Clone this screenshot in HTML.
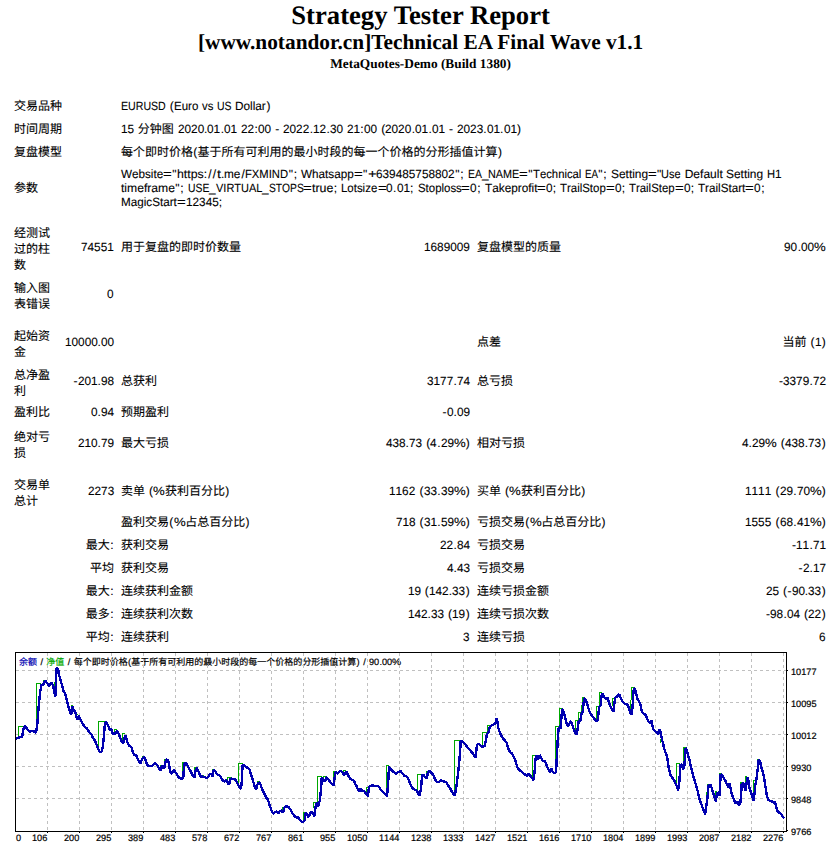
<!DOCTYPE html>
<html lang="zh-CN"><head><meta charset="utf-8"><title>Strategy Tester: [www.notandor.cn]Technical EA Final Wave v1.1</title>
<style>
html,body{margin:0;padding:0;background:#fff}
body{position:relative;width:840px;height:851px;overflow:hidden;font-family:"Liberation Sans",sans-serif;font-size:12px;color:#000;font-kerning:none;text-rendering:geometricPrecision}
.hd{position:absolute;left:1.2px;width:838.8px;text-align:center;font-family:"Liberation Serif",serif;font-weight:bold;white-space:nowrap;font-kerning:normal}
.t{position:absolute;white-space:nowrap;line-height:16px;height:16px;-webkit-text-stroke:0.1px #000}
.j{display:inline-block;white-space:pre;font-family:"Liberation Sans","Noto Sans CJK SC",sans-serif}
.jb{display:block;width:36px;white-space:normal;word-break:break-all;line-height:16px;font-size:12px;font-family:"Liberation Sans","Noto Sans CJK SC",sans-serif}
.k{display:inline-block;white-space:pre}
.s{transform-origin:0 50%}
.p{text-align:center}
.a{position:absolute;white-space:nowrap;font-size:9.33px;line-height:12px;height:12px;-webkit-text-stroke:0.2px #000}
.lg{position:absolute;white-space:nowrap;font-size:9.33px;line-height:12px;height:12px;-webkit-text-stroke:0.2px currentColor}
.lg .j{font-size:9px}
</style></head><body>
<div class="hd" style="top:0;font-size:26.667px;line-height:30px">Strategy Tester Report</div>
<div class="hd" style="top:30px;font-size:21.333px;line-height:24px">[www.notandor.cn]Technical EA Final Wave v1.1</div>
<div class="hd" style="top:56px;font-size:13.333px;line-height:15px">MetaQuotes-Demo (Build 1380)</div>
<div class="t" style="top:98px;left:14px;"><span class="j" style="width:48px">交易品种</span></div>
<div class="t" style="top:98px;left:121px;"><span class="k s" style="width:50.66px;transform:scaleX(0.8832);margin-right:-5.92px">EURUSD</span><span class="k" style="width:3.76px"> </span><span class="k p" style="width:4.60px">(</span><span class="k s" style="width:25.34px;transform:scaleX(0.9574);margin-right:-1.08px">Euro</span><span class="k" style="width:3.76px"> </span><span class="k s" style="width:12.00px;transform:scaleX(0.9440);margin-right:-0.67px">vs</span><span class="k" style="width:3.76px"> </span><span class="k s" style="width:16.67px;transform:scaleX(0.8733);margin-right:-2.11px">US</span><span class="k" style="width:3.76px"> </span><span class="k s" style="width:31.33px;transform:scaleX(0.9820);margin-right:-0.56px">Dollar</span><span class="k p" style="width:4.60px">)</span></div>
<div class="t" style="top:121px;left:14px;"><span class="j" style="width:48px">时间周期</span></div>
<div class="t" style="top:121px;left:121px;"><span class="k s" style="width:13.34px;transform:scaleX(0.9820);margin-right:-0.24px">15</span><span class="k" style="width:3.76px"> </span><span class="j" style="width:36px">分钟图</span><span class="k" style="width:3.76px"> </span><span class="k s" style="width:26.69px;transform:scaleX(0.9820);margin-right:-0.48px">2020</span><span class="k p" style="width:3.64px">.</span><span class="k s" style="width:13.34px;transform:scaleX(0.9820);margin-right:-0.24px">01</span><span class="k p" style="width:3.64px">.</span><span class="k s" style="width:13.34px;transform:scaleX(0.9820);margin-right:-0.24px">01</span><span class="k" style="width:3.76px"> </span><span class="k s" style="width:13.34px;transform:scaleX(0.9820);margin-right:-0.24px">22</span><span class="k p" style="width:4.25px">:</span><span class="k s" style="width:13.34px;transform:scaleX(0.9820);margin-right:-0.24px">00</span><span class="k" style="width:3.76px"> </span><span class="k p" style="width:4.36px">-</span><span class="k" style="width:3.76px"> </span><span class="k s" style="width:26.69px;transform:scaleX(0.9820);margin-right:-0.48px">2022</span><span class="k p" style="width:3.64px">.</span><span class="k s" style="width:13.34px;transform:scaleX(0.9820);margin-right:-0.24px">12</span><span class="k p" style="width:3.64px">.</span><span class="k s" style="width:13.34px;transform:scaleX(0.9820);margin-right:-0.24px">30</span><span class="k" style="width:3.76px"> </span><span class="k s" style="width:13.34px;transform:scaleX(0.9820);margin-right:-0.24px">21</span><span class="k p" style="width:4.25px">:</span><span class="k s" style="width:13.34px;transform:scaleX(0.9820);margin-right:-0.24px">00</span><span class="k" style="width:3.76px"> </span><span class="k p" style="width:4.60px">(</span><span class="k s" style="width:26.69px;transform:scaleX(0.9820);margin-right:-0.48px">2020</span><span class="k p" style="width:3.64px">.</span><span class="k s" style="width:13.34px;transform:scaleX(0.9820);margin-right:-0.24px">01</span><span class="k p" style="width:3.64px">.</span><span class="k s" style="width:13.34px;transform:scaleX(0.9820);margin-right:-0.24px">01</span><span class="k" style="width:3.76px"> </span><span class="k p" style="width:4.36px">-</span><span class="k" style="width:3.76px"> </span><span class="k s" style="width:26.69px;transform:scaleX(0.9820);margin-right:-0.48px">2023</span><span class="k p" style="width:3.64px">.</span><span class="k s" style="width:13.34px;transform:scaleX(0.9820);margin-right:-0.24px">01</span><span class="k p" style="width:3.64px">.</span><span class="k s" style="width:13.34px;transform:scaleX(0.9820);margin-right:-0.24px">01</span><span class="k p" style="width:4.60px">)</span></div>
<div class="t" style="top:144px;left:14px;"><span class="j" style="width:48px">复盘模型</span></div>
<div class="t" style="top:144px;left:121px;"><span class="j" style="width:72px">每个即时价格</span><span class="k p" style="width:4.60px">(</span><span class="j" style="width:300px">基于所有可利用的最小时段的每一个价格的分形插值计算</span><span class="k p" style="width:4.60px">)</span></div>
<div class="t" style="top:180px;left:14px;"><span class="j" style="width:24px">参数</span></div>
<div class="t" style="top:166px;left:121px;"><span class="k s" style="width:43.34px;transform:scaleX(0.9734);margin-right:-1.15px">Website</span><span class="k s" style="width:7.01px;transform:scaleX(1.2466);margin-right:1.73px">=</span><span class="k p" style="width:4.81px">"</span><span class="k s" style="width:26.02px;transform:scaleX(1.0263);margin-right:0.68px">https</span><span class="k p" style="width:4.25px">:</span><span class="k p" style="width:4.58px">/</span><span class="k p" style="width:4.58px">/</span><span class="k s" style="width:3.34px;transform:scaleX(1.2014);margin-right:0.67px">t</span><span class="k p" style="width:3.64px">.</span><span class="k s" style="width:16.67px;transform:scaleX(0.9834);margin-right:-0.28px">me</span><span class="k p" style="width:4.58px">/</span><span class="k s" style="width:46.00px;transform:scaleX(0.9369);margin-right:-2.90px">FXMIND</span><span class="k p" style="width:4.81px">"</span><span class="k p" style="width:4.25px">;</span><span class="k" style="width:3.76px"> </span><span class="k s" style="width:54.02px;transform:scaleX(0.9765);margin-right:-1.27px">Whatsapp</span><span class="k s" style="width:7.01px;transform:scaleX(1.2466);margin-right:1.73px">=</span><span class="k p" style="width:4.81px">"</span><span class="k s" style="width:7.01px;transform:scaleX(1.2466);margin-right:1.73px">+</span><span class="k s" style="width:80.06px;transform:scaleX(0.9820);margin-right:-1.44px">639485758802</span><span class="k p" style="width:4.81px">"</span><span class="k p" style="width:4.25px">;</span><span class="k" style="width:3.76px"> </span><span class="k s" style="width:16.01px;transform:scaleX(0.8703);margin-right:-2.08px">EA</span><span class="k s" style="width:6.67px;transform:scaleX(0.9820);margin-right:-0.12px">_</span><span class="k s" style="width:34.67px;transform:scaleX(0.8996);margin-right:-3.48px">NAME</span><span class="k s" style="width:7.01px;transform:scaleX(1.2466);margin-right:1.73px">=</span><span class="k p" style="width:4.81px">"</span><span class="k s" style="width:51.35px;transform:scaleX(0.9420);margin-right:-2.98px">Technical</span><span class="k" style="width:3.76px"> </span><span class="k s" style="width:16.01px;transform:scaleX(0.8141);margin-right:-2.98px">EA</span><span class="k p" style="width:4.81px">"</span><span class="k p" style="width:4.25px">;</span><span class="k" style="width:3.76px"> </span><span class="k s" style="width:37.36px;transform:scaleX(0.9929);margin-right:-0.26px">Setting</span><span class="k s" style="width:7.01px;transform:scaleX(1.2466);margin-right:1.73px">=</span><span class="k p" style="width:4.81px">"</span><span class="k s" style="width:21.34px;transform:scaleX(0.9156);margin-right:-1.80px">Use</span><span class="k" style="width:3.76px"> </span><span class="k s" style="width:38.02px;transform:scaleX(1.0000);margin-right:0.00px">Default</span><span class="k" style="width:3.76px"> </span><span class="k s" style="width:37.36px;transform:scaleX(0.9929);margin-right:-0.26px">Setting</span><span class="k" style="width:3.76px"> </span><span class="k s" style="width:8.66px;transform:scaleX(0.9349);margin-right:-0.56px">H</span><span class="k s" style="width:6.67px;transform:scaleX(0.9820);margin-right:-0.12px">1</span></div>
<div class="t" style="top:180px;left:121px;"><span class="k s" style="width:53.34px;transform:scaleX(1.0119);margin-right:0.64px">timeframe</span><span class="k p" style="width:4.81px">"</span><span class="k p" style="width:4.25px">;</span><span class="k" style="width:3.76px"> </span><span class="k s" style="width:24.67px;transform:scaleX(0.8628);margin-right:-3.38px">USE</span><span class="k s" style="width:6.67px;transform:scaleX(0.9820);margin-right:-0.12px">_</span><span class="k s" style="width:50.68px;transform:scaleX(0.9162);margin-right:-4.25px">VIRTUAL</span><span class="k s" style="width:6.67px;transform:scaleX(0.9820);margin-right:-0.12px">_</span><span class="k s" style="width:40.68px;transform:scaleX(0.8546);margin-right:-5.92px">STOPS</span><span class="k s" style="width:7.01px;transform:scaleX(1.2466);margin-right:1.73px">=</span><span class="k s" style="width:20.68px;transform:scaleX(1.0319);margin-right:0.66px">true</span><span class="k p" style="width:4.25px">;</span><span class="k" style="width:3.76px"> </span><span class="k s" style="width:38.02px;transform:scaleX(0.9533);margin-right:-1.78px">Lotsize</span><span class="k s" style="width:7.01px;transform:scaleX(1.2466);margin-right:1.73px">=</span><span class="k s" style="width:6.67px;transform:scaleX(0.9820);margin-right:-0.12px">0</span><span class="k p" style="width:3.64px">.</span><span class="k s" style="width:13.34px;transform:scaleX(0.9820);margin-right:-0.24px">01</span><span class="k p" style="width:4.25px">;</span><span class="k" style="width:3.76px"> </span><span class="k s" style="width:46.02px;transform:scaleX(0.9520);margin-right:-2.21px">Stoploss</span><span class="k s" style="width:7.01px;transform:scaleX(1.2466);margin-right:1.73px">=</span><span class="k s" style="width:6.67px;transform:scaleX(0.9820);margin-right:-0.12px">0</span><span class="k p" style="width:4.25px">;</span><span class="k" style="width:3.76px"> </span><span class="k s" style="width:53.35px;transform:scaleX(0.9829);margin-right:-0.91px">Takeprofit</span><span class="k s" style="width:7.01px;transform:scaleX(1.2466);margin-right:1.73px">=</span><span class="k s" style="width:6.67px;transform:scaleX(0.9820);margin-right:-0.12px">0</span><span class="k p" style="width:4.25px">;</span><span class="k" style="width:3.76px"> </span><span class="k s" style="width:48.01px;transform:scaleX(0.9533);margin-right:-2.24px">TrailStop</span><span class="k s" style="width:7.01px;transform:scaleX(1.2466);margin-right:1.73px">=</span><span class="k s" style="width:6.67px;transform:scaleX(0.9820);margin-right:-0.12px">0</span><span class="k p" style="width:4.25px">;</span><span class="k" style="width:3.76px"> </span><span class="k s" style="width:48.01px;transform:scaleX(0.9490);margin-right:-2.45px">TrailStep</span><span class="k s" style="width:7.01px;transform:scaleX(1.2466);margin-right:1.73px">=</span><span class="k s" style="width:6.67px;transform:scaleX(0.9820);margin-right:-0.12px">0</span><span class="k p" style="width:4.25px">;</span><span class="k" style="width:3.76px"> </span><span class="k s" style="width:48.67px;transform:scaleX(0.9707);margin-right:-1.43px">TrailStart</span><span class="k s" style="width:7.01px;transform:scaleX(1.2466);margin-right:1.73px">=</span><span class="k s" style="width:6.67px;transform:scaleX(0.9820);margin-right:-0.12px">0</span><span class="k p" style="width:4.25px">;</span></div>
<div class="t" style="top:194px;left:121px;"><span class="k s" style="width:57.35px;transform:scaleX(0.9728);margin-right:-1.56px">MagicStart</span><span class="k s" style="width:7.01px;transform:scaleX(1.2466);margin-right:1.73px">=</span><span class="k s" style="width:33.36px;transform:scaleX(0.9820);margin-right:-0.60px">12345</span><span class="k p" style="width:4.25px">;</span></div>
<div class="t" style="left:14px;top:225px;height:44px;line-height:0"><span class="jb">经测试过的柱数</span></div>
<div class="t" style="top:239px;right:726px;"><span class="k s" style="width:33.36px;transform:scaleX(0.9820);margin-right:-0.60px">74551</span></div>
<div class="t" style="top:239px;left:121px;"><span class="j" style="width:120px">用于复盘的即时价数量</span></div>
<div class="t" style="top:239px;right:370px;"><span class="k s" style="width:46.70px;transform:scaleX(0.9820);margin-right:-0.84px">1689009</span></div>
<div class="t" style="top:239px;left:477px;"><span class="j" style="width:84px">复盘模型的质量</span></div>
<div class="t" style="top:239px;right:14px;"><span class="k s" style="width:13.34px;transform:scaleX(0.9820);margin-right:-0.24px">90</span><span class="k p" style="width:3.64px">.</span><span class="k s" style="width:13.34px;transform:scaleX(0.9820);margin-right:-0.24px">00</span><span class="k s" style="width:10.67px;transform:scaleX(1.0990);margin-right:1.06px">%</span></div>
<div class="t" style="left:14px;top:280px;height:28px;line-height:0"><span class="jb">输入图表错误</span></div>
<div class="t" style="top:286px;right:726px;"><span class="k s" style="width:6.67px;transform:scaleX(0.9820);margin-right:-0.12px">0</span></div>
<div class="t" style="left:14px;top:328px;height:28px;line-height:0"><span class="jb">起始资金</span></div>
<div class="t" style="top:334px;right:726px;"><span class="k s" style="width:33.36px;transform:scaleX(0.9820);margin-right:-0.60px">10000</span><span class="k p" style="width:3.64px">.</span><span class="k s" style="width:13.34px;transform:scaleX(0.9820);margin-right:-0.24px">00</span></div>
<div class="t" style="top:334px;left:477px;"><span class="j" style="width:24px">点差</span></div>
<div class="t" style="top:334px;right:14px;"><span class="j" style="width:24px">当前</span><span class="k" style="width:3.76px"> </span><span class="k p" style="width:4.60px">(</span><span class="k s" style="width:6.67px;transform:scaleX(0.9820);margin-right:-0.12px">1</span><span class="k p" style="width:4.60px">)</span></div>
<div class="t" style="left:14px;top:367px;height:28px;line-height:0"><span class="jb">总净盈利</span></div>
<div class="t" style="top:373px;right:726px;"><span class="k p" style="width:4.36px">-</span><span class="k s" style="width:20.02px;transform:scaleX(0.9820);margin-right:-0.36px">201</span><span class="k p" style="width:3.64px">.</span><span class="k s" style="width:13.34px;transform:scaleX(0.9820);margin-right:-0.24px">98</span></div>
<div class="t" style="top:373px;left:121px;"><span class="j" style="width:36px">总获利</span></div>
<div class="t" style="top:373px;right:370px;"><span class="k s" style="width:26.69px;transform:scaleX(0.9820);margin-right:-0.48px">3177</span><span class="k p" style="width:3.64px">.</span><span class="k s" style="width:13.34px;transform:scaleX(0.9820);margin-right:-0.24px">74</span></div>
<div class="t" style="top:373px;left:477px;"><span class="j" style="width:36px">总亏损</span></div>
<div class="t" style="top:373px;right:14px;"><span class="k p" style="width:4.36px">-</span><span class="k s" style="width:26.69px;transform:scaleX(0.9820);margin-right:-0.48px">3379</span><span class="k p" style="width:3.64px">.</span><span class="k s" style="width:13.34px;transform:scaleX(0.9820);margin-right:-0.24px">72</span></div>
<div class="t" style="top:404px;left:14px;"><span class="j" style="width:36px">盈利比</span></div>
<div class="t" style="top:404px;right:726px;"><span class="k s" style="width:6.67px;transform:scaleX(0.9820);margin-right:-0.12px">0</span><span class="k p" style="width:3.64px">.</span><span class="k s" style="width:13.34px;transform:scaleX(0.9820);margin-right:-0.24px">94</span></div>
<div class="t" style="top:404px;left:121px;"><span class="j" style="width:48px">预期盈利</span></div>
<div class="t" style="top:404px;right:370px;"><span class="k p" style="width:4.36px">-</span><span class="k s" style="width:6.67px;transform:scaleX(0.9820);margin-right:-0.12px">0</span><span class="k p" style="width:3.64px">.</span><span class="k s" style="width:13.34px;transform:scaleX(0.9820);margin-right:-0.24px">09</span></div>
<div class="t" style="left:14px;top:429px;height:28px;line-height:0"><span class="jb">绝对亏损</span></div>
<div class="t" style="top:435px;right:726px;"><span class="k s" style="width:20.02px;transform:scaleX(0.9820);margin-right:-0.36px">210</span><span class="k p" style="width:3.64px">.</span><span class="k s" style="width:13.34px;transform:scaleX(0.9820);margin-right:-0.24px">79</span></div>
<div class="t" style="top:435px;left:121px;"><span class="j" style="width:48px">最大亏损</span></div>
<div class="t" style="top:435px;right:370px;"><span class="k s" style="width:20.02px;transform:scaleX(0.9820);margin-right:-0.36px">438</span><span class="k p" style="width:3.64px">.</span><span class="k s" style="width:13.34px;transform:scaleX(0.9820);margin-right:-0.24px">73</span><span class="k" style="width:3.76px"> </span><span class="k p" style="width:4.60px">(</span><span class="k s" style="width:6.67px;transform:scaleX(0.9820);margin-right:-0.12px">4</span><span class="k p" style="width:3.64px">.</span><span class="k s" style="width:13.34px;transform:scaleX(0.9820);margin-right:-0.24px">29</span><span class="k s" style="width:10.67px;transform:scaleX(1.0990);margin-right:1.06px">%</span><span class="k p" style="width:4.60px">)</span></div>
<div class="t" style="top:435px;left:477px;"><span class="j" style="width:48px">相对亏损</span></div>
<div class="t" style="top:435px;right:14px;"><span class="k s" style="width:6.67px;transform:scaleX(0.9820);margin-right:-0.12px">4</span><span class="k p" style="width:3.64px">.</span><span class="k s" style="width:13.34px;transform:scaleX(0.9820);margin-right:-0.24px">29</span><span class="k s" style="width:10.67px;transform:scaleX(1.0990);margin-right:1.06px">%</span><span class="k" style="width:3.76px"> </span><span class="k p" style="width:4.60px">(</span><span class="k s" style="width:20.02px;transform:scaleX(0.9820);margin-right:-0.36px">438</span><span class="k p" style="width:3.64px">.</span><span class="k s" style="width:13.34px;transform:scaleX(0.9820);margin-right:-0.24px">73</span><span class="k p" style="width:4.60px">)</span></div>
<div class="t" style="left:14px;top:477px;height:28px;line-height:0"><span class="jb">交易单总计</span></div>
<div class="t" style="top:483px;right:726px;"><span class="k s" style="width:26.69px;transform:scaleX(0.9820);margin-right:-0.48px">2273</span></div>
<div class="t" style="top:483px;left:121px;"><span class="j" style="width:24px">卖单</span><span class="k" style="width:3.76px"> </span><span class="k p" style="width:4.60px">(</span><span class="k s" style="width:10.67px;transform:scaleX(1.0990);margin-right:1.06px">%</span><span class="j" style="width:60px">获利百分比</span><span class="k p" style="width:4.60px">)</span></div>
<div class="t" style="top:483px;right:370px;"><span class="k s" style="width:26.69px;transform:scaleX(0.9820);margin-right:-0.48px">1162</span><span class="k" style="width:3.76px"> </span><span class="k p" style="width:4.60px">(</span><span class="k s" style="width:13.34px;transform:scaleX(0.9820);margin-right:-0.24px">33</span><span class="k p" style="width:3.64px">.</span><span class="k s" style="width:13.34px;transform:scaleX(0.9820);margin-right:-0.24px">39</span><span class="k s" style="width:10.67px;transform:scaleX(1.0990);margin-right:1.06px">%</span><span class="k p" style="width:4.60px">)</span></div>
<div class="t" style="top:483px;left:477px;"><span class="j" style="width:24px">买单</span><span class="k" style="width:3.76px"> </span><span class="k p" style="width:4.60px">(</span><span class="k s" style="width:10.67px;transform:scaleX(1.0990);margin-right:1.06px">%</span><span class="j" style="width:60px">获利百分比</span><span class="k p" style="width:4.60px">)</span></div>
<div class="t" style="top:483px;right:14px;"><span class="k s" style="width:26.69px;transform:scaleX(0.9820);margin-right:-0.48px">1111</span><span class="k" style="width:3.76px"> </span><span class="k p" style="width:4.60px">(</span><span class="k s" style="width:13.34px;transform:scaleX(0.9820);margin-right:-0.24px">29</span><span class="k p" style="width:3.64px">.</span><span class="k s" style="width:13.34px;transform:scaleX(0.9820);margin-right:-0.24px">70</span><span class="k s" style="width:10.67px;transform:scaleX(1.0990);margin-right:1.06px">%</span><span class="k p" style="width:4.60px">)</span></div>
<div class="t" style="top:514px;left:121px;"><span class="j" style="width:48px">盈利交易</span><span class="k p" style="width:4.60px">(</span><span class="k s" style="width:10.67px;transform:scaleX(1.0990);margin-right:1.06px">%</span><span class="j" style="width:60px">占总百分比</span><span class="k p" style="width:4.60px">)</span></div>
<div class="t" style="top:514px;right:370px;"><span class="k s" style="width:20.02px;transform:scaleX(0.9820);margin-right:-0.36px">718</span><span class="k" style="width:3.76px"> </span><span class="k p" style="width:4.60px">(</span><span class="k s" style="width:13.34px;transform:scaleX(0.9820);margin-right:-0.24px">31</span><span class="k p" style="width:3.64px">.</span><span class="k s" style="width:13.34px;transform:scaleX(0.9820);margin-right:-0.24px">59</span><span class="k s" style="width:10.67px;transform:scaleX(1.0990);margin-right:1.06px">%</span><span class="k p" style="width:4.60px">)</span></div>
<div class="t" style="top:514px;left:477px;"><span class="j" style="width:48px">亏损交易</span><span class="k p" style="width:4.60px">(</span><span class="k s" style="width:10.67px;transform:scaleX(1.0990);margin-right:1.06px">%</span><span class="j" style="width:60px">占总百分比</span><span class="k p" style="width:4.60px">)</span></div>
<div class="t" style="top:514px;right:14px;"><span class="k s" style="width:26.69px;transform:scaleX(0.9820);margin-right:-0.48px">1555</span><span class="k" style="width:3.76px"> </span><span class="k p" style="width:4.60px">(</span><span class="k s" style="width:13.34px;transform:scaleX(0.9820);margin-right:-0.24px">68</span><span class="k p" style="width:3.64px">.</span><span class="k s" style="width:13.34px;transform:scaleX(0.9820);margin-right:-0.24px">41</span><span class="k s" style="width:10.67px;transform:scaleX(1.0990);margin-right:1.06px">%</span><span class="k p" style="width:4.60px">)</span></div>
<div class="t" style="top:537px;right:726px;"><span class="j" style="width:24px">最大</span><span class="k p" style="width:4.25px">:</span></div>
<div class="t" style="top:537px;left:121px;"><span class="j" style="width:48px">获利交易</span></div>
<div class="t" style="top:537px;right:370px;"><span class="k s" style="width:13.34px;transform:scaleX(0.9820);margin-right:-0.24px">22</span><span class="k p" style="width:3.64px">.</span><span class="k s" style="width:13.34px;transform:scaleX(0.9820);margin-right:-0.24px">84</span></div>
<div class="t" style="top:537px;left:477px;"><span class="j" style="width:48px">亏损交易</span></div>
<div class="t" style="top:537px;right:14px;"><span class="k p" style="width:4.36px">-</span><span class="k s" style="width:13.34px;transform:scaleX(0.9820);margin-right:-0.24px">11</span><span class="k p" style="width:3.64px">.</span><span class="k s" style="width:13.34px;transform:scaleX(0.9820);margin-right:-0.24px">71</span></div>
<div class="t" style="top:560px;right:726px;"><span class="j" style="width:24px">平均</span></div>
<div class="t" style="top:560px;left:121px;"><span class="j" style="width:48px">获利交易</span></div>
<div class="t" style="top:560px;right:370px;"><span class="k s" style="width:6.67px;transform:scaleX(0.9820);margin-right:-0.12px">4</span><span class="k p" style="width:3.64px">.</span><span class="k s" style="width:13.34px;transform:scaleX(0.9820);margin-right:-0.24px">43</span></div>
<div class="t" style="top:560px;left:477px;"><span class="j" style="width:48px">亏损交易</span></div>
<div class="t" style="top:560px;right:14px;"><span class="k p" style="width:4.36px">-</span><span class="k s" style="width:6.67px;transform:scaleX(0.9820);margin-right:-0.12px">2</span><span class="k p" style="width:3.64px">.</span><span class="k s" style="width:13.34px;transform:scaleX(0.9820);margin-right:-0.24px">17</span></div>
<div class="t" style="top:583px;right:726px;"><span class="j" style="width:24px">最大</span><span class="k p" style="width:4.25px">:</span></div>
<div class="t" style="top:583px;left:121px;"><span class="j" style="width:72px">连续获利金额</span></div>
<div class="t" style="top:583px;right:370px;"><span class="k s" style="width:13.34px;transform:scaleX(0.9820);margin-right:-0.24px">19</span><span class="k" style="width:3.76px"> </span><span class="k p" style="width:4.60px">(</span><span class="k s" style="width:20.02px;transform:scaleX(0.9820);margin-right:-0.36px">142</span><span class="k p" style="width:3.64px">.</span><span class="k s" style="width:13.34px;transform:scaleX(0.9820);margin-right:-0.24px">33</span><span class="k p" style="width:4.60px">)</span></div>
<div class="t" style="top:583px;left:477px;"><span class="j" style="width:72px">连续亏损金额</span></div>
<div class="t" style="top:583px;right:14px;"><span class="k s" style="width:13.34px;transform:scaleX(0.9820);margin-right:-0.24px">25</span><span class="k" style="width:3.76px"> </span><span class="k p" style="width:4.60px">(</span><span class="k p" style="width:4.36px">-</span><span class="k s" style="width:13.34px;transform:scaleX(0.9820);margin-right:-0.24px">90</span><span class="k p" style="width:3.64px">.</span><span class="k s" style="width:13.34px;transform:scaleX(0.9820);margin-right:-0.24px">33</span><span class="k p" style="width:4.60px">)</span></div>
<div class="t" style="top:606px;right:726px;"><span class="j" style="width:24px">最多</span><span class="k p" style="width:4.25px">:</span></div>
<div class="t" style="top:606px;left:121px;"><span class="j" style="width:72px">连续获利次数</span></div>
<div class="t" style="top:606px;right:370px;"><span class="k s" style="width:20.02px;transform:scaleX(0.9820);margin-right:-0.36px">142</span><span class="k p" style="width:3.64px">.</span><span class="k s" style="width:13.34px;transform:scaleX(0.9820);margin-right:-0.24px">33</span><span class="k" style="width:3.76px"> </span><span class="k p" style="width:4.60px">(</span><span class="k s" style="width:13.34px;transform:scaleX(0.9820);margin-right:-0.24px">19</span><span class="k p" style="width:4.60px">)</span></div>
<div class="t" style="top:606px;left:477px;"><span class="j" style="width:72px">连续亏损次数</span></div>
<div class="t" style="top:606px;right:14px;"><span class="k p" style="width:4.36px">-</span><span class="k s" style="width:13.34px;transform:scaleX(0.9820);margin-right:-0.24px">98</span><span class="k p" style="width:3.64px">.</span><span class="k s" style="width:13.34px;transform:scaleX(0.9820);margin-right:-0.24px">04</span><span class="k" style="width:3.76px"> </span><span class="k p" style="width:4.60px">(</span><span class="k s" style="width:13.34px;transform:scaleX(0.9820);margin-right:-0.24px">22</span><span class="k p" style="width:4.60px">)</span></div>
<div class="t" style="top:629px;right:726px;"><span class="j" style="width:24px">平均</span><span class="k p" style="width:4.25px">:</span></div>
<div class="t" style="top:629px;left:121px;"><span class="j" style="width:48px">连续获利</span></div>
<div class="t" style="top:629px;right:370px;"><span class="k s" style="width:6.67px;transform:scaleX(0.9820);margin-right:-0.12px">3</span></div>
<div class="t" style="top:629px;left:477px;"><span class="j" style="width:48px">连续亏损</span></div>
<div class="t" style="top:629px;right:14px;"><span class="k s" style="width:6.67px;transform:scaleX(0.9820);margin-right:-0.12px">6</span></div>
<div class="a" style="left:16px;top:832px"><span class="k s" style="width:5.19px;transform:scaleX(0.9820);margin-right:-0.09px">0</span></div>
<div class="a" style="right:793px;top:832px"><span class="k s" style="width:15.56px;transform:scaleX(0.9820);margin-right:-0.28px">106</span></div>
<div class="a" style="right:761px;top:832px"><span class="k s" style="width:15.56px;transform:scaleX(0.9820);margin-right:-0.28px">200</span></div>
<div class="a" style="right:729px;top:832px"><span class="k s" style="width:15.56px;transform:scaleX(0.9820);margin-right:-0.28px">295</span></div>
<div class="a" style="right:697px;top:832px"><span class="k s" style="width:15.56px;transform:scaleX(0.9820);margin-right:-0.28px">389</span></div>
<div class="a" style="right:665px;top:832px"><span class="k s" style="width:15.56px;transform:scaleX(0.9820);margin-right:-0.28px">483</span></div>
<div class="a" style="right:633px;top:832px"><span class="k s" style="width:15.56px;transform:scaleX(0.9820);margin-right:-0.28px">578</span></div>
<div class="a" style="right:601px;top:832px"><span class="k s" style="width:15.56px;transform:scaleX(0.9820);margin-right:-0.28px">672</span></div>
<div class="a" style="right:569px;top:832px"><span class="k s" style="width:15.56px;transform:scaleX(0.9820);margin-right:-0.28px">767</span></div>
<div class="a" style="right:537px;top:832px"><span class="k s" style="width:15.56px;transform:scaleX(0.9820);margin-right:-0.28px">861</span></div>
<div class="a" style="right:505px;top:832px"><span class="k s" style="width:15.56px;transform:scaleX(0.9820);margin-right:-0.28px">955</span></div>
<div class="a" style="right:473px;top:832px"><span class="k s" style="width:20.75px;transform:scaleX(0.9820);margin-right:-0.37px">1050</span></div>
<div class="a" style="right:441px;top:832px"><span class="k s" style="width:20.75px;transform:scaleX(0.9820);margin-right:-0.37px">1144</span></div>
<div class="a" style="right:409px;top:832px"><span class="k s" style="width:20.75px;transform:scaleX(0.9820);margin-right:-0.37px">1238</span></div>
<div class="a" style="right:377px;top:832px"><span class="k s" style="width:20.75px;transform:scaleX(0.9820);margin-right:-0.37px">1333</span></div>
<div class="a" style="right:345px;top:832px"><span class="k s" style="width:20.75px;transform:scaleX(0.9820);margin-right:-0.37px">1427</span></div>
<div class="a" style="right:313px;top:832px"><span class="k s" style="width:20.75px;transform:scaleX(0.9820);margin-right:-0.37px">1521</span></div>
<div class="a" style="right:281px;top:832px"><span class="k s" style="width:20.75px;transform:scaleX(0.9820);margin-right:-0.37px">1616</span></div>
<div class="a" style="right:249px;top:832px"><span class="k s" style="width:20.75px;transform:scaleX(0.9820);margin-right:-0.37px">1710</span></div>
<div class="a" style="right:217px;top:832px"><span class="k s" style="width:20.75px;transform:scaleX(0.9820);margin-right:-0.37px">1804</span></div>
<div class="a" style="right:185px;top:832px"><span class="k s" style="width:20.75px;transform:scaleX(0.9820);margin-right:-0.37px">1899</span></div>
<div class="a" style="right:153px;top:832px"><span class="k s" style="width:20.75px;transform:scaleX(0.9820);margin-right:-0.37px">1993</span></div>
<div class="a" style="right:121px;top:832px"><span class="k s" style="width:20.75px;transform:scaleX(0.9820);margin-right:-0.37px">2087</span></div>
<div class="a" style="right:89px;top:832px"><span class="k s" style="width:20.75px;transform:scaleX(0.9820);margin-right:-0.37px">2182</span></div>
<div class="a" style="right:57px;top:832px"><span class="k s" style="width:20.75px;transform:scaleX(0.9820);margin-right:-0.37px">2276</span></div>
<div class="a" style="left:791px;top:666px"><span class="k s" style="width:25.94px;transform:scaleX(0.9820);margin-right:-0.47px">10177</span></div>
<div class="a" style="left:791px;top:698px"><span class="k s" style="width:25.94px;transform:scaleX(0.9820);margin-right:-0.47px">10095</span></div>
<div class="a" style="left:791px;top:730px"><span class="k s" style="width:25.94px;transform:scaleX(0.9820);margin-right:-0.47px">10012</span></div>
<div class="a" style="left:791px;top:762px"><span class="k s" style="width:20.75px;transform:scaleX(0.9820);margin-right:-0.37px">9930</span></div>
<div class="a" style="left:791px;top:794px"><span class="k s" style="width:20.75px;transform:scaleX(0.9820);margin-right:-0.37px">9848</span></div>
<div class="a" style="left:791px;top:826px"><span class="k s" style="width:20.75px;transform:scaleX(0.9820);margin-right:-0.37px">9766</span></div>
<div class="lg" style="left:19px;top:656px"><span style="color:#0000b0"><span class="j" style="width:18px">余额</span></span><span class="k" style="width:2.92px"> </span><span class="k p" style="width:3.56px">/</span><span class="k" style="width:2.92px"> </span><span style="color:#00a800"><span class="j" style="width:18px">净值</span></span><span class="k" style="width:2.92px"> </span><span class="k p" style="width:3.56px">/</span><span class="k" style="width:2.92px"> </span><span class="j" style="width:54px">每个即时价格</span><span class="k p" style="width:3.57px">(</span><span class="j" style="width:225px">基于所有可利用的最小时段的每一个价格的分形插值计算</span><span class="k p" style="width:3.57px">)</span><span class="k" style="width:2.92px"> </span><span class="k p" style="width:3.56px">/</span><span class="k" style="width:2.92px"> </span><span class="k s" style="width:10.37px;transform:scaleX(0.9820);margin-right:-0.19px">90</span><span class="k p" style="width:2.83px">.</span><span class="k s" style="width:10.37px;transform:scaleX(0.9820);margin-right:-0.19px">00</span><span class="k s" style="width:8.29px;transform:scaleX(1.0990);margin-right:0.82px">%</span></div>
<svg id="chart" style="position:absolute;left:0;top:640px" width="840" height="211" viewBox="0 640 840 211">
<path d="M47.5 653 V831 M79.5 653 V831 M111.5 653 V831 M143.5 653 V831 M175.5 653 V831 M207.5 653 V831 M239.5 653 V831 M271.5 653 V831 M303.5 653 V831 M335.5 653 V831 M367.5 653 V831 M399.5 653 V831 M431.5 653 V831 M463.5 653 V831 M495.5 653 V831 M527.5 653 V831 M559.5 653 V831 M591.5 653 V831 M623.5 653 V831 M655.5 653 V831 M687.5 653 V831 M719.5 653 V831 M751.5 653 V831 M783.5 653 V831 M16 670.5 H786 M16 702.5 H786 M16 734.5 H786 M16 766.5 H786 M16 798.5 H786" stroke="#c0c0c0" stroke-width="1" stroke-dasharray="3 3" fill="none" shape-rendering="crispEdges"/>
<path d="M18.9 737.4 V726.4 H24.3 M36 724.3 V683.3 H40.7 M43.2 684.3 V680 H45 M54.2 689.3 V682.9 H55.1 M55.3 678.6 V670.7 H57.1 M71.3 712.9 V705.7 H72.6 M76.7 717.1 V714.3 H78.3 M98.2 745.7 V721.1 H105 M114.6 733.6 V729.6 H116.9 M122.5 741.4 V733.3 H125 M138.9 762.1 V761.1 H139.9 M142 759.3 V756.9 H143.6 M160.3 767.1 V765 H161.9 M164.3 762.9 V759.3 H166.7 M182.9 777.1 V762.4 H185.7 M194.3 777.1 V767.4 H196.4 M201.7 776.7 V775.4 H204.3 M212 774.3 V769.6 H214.3 M227.7 783.6 V777.9 H231 M238.9 785.7 V763.3 H242.4 M239.6 763.9 V763.9 H242.6 M257.5 785 V781.4 H258.9 M282.5 812.9 V807.9 H284.3 M303.2 821.4 V812.9 H305.7 M313.9 807.9 V802.1 H316 M317.9 806.4 V776.4 H322.1 M323.9 780 V776.7 H326.4 M333.2 783.6 V771.1 H336 M343.9 773.6 V770.4 H346.4 M366 792.9 V787.1 H368.9 M386 794.3 V765.4 H389.3 M417.9 791.4 V774.3 H422.1 M426 777.9 V771.4 H428.1 M454.2 793.6 V740.4 H461.4 M482.9 745.7 V732.6 H486.9 M487 732.1 V725.4 H490 M495.3 723.6 V718.3 H496.6 M532 777.1 V755.3 H536 M555 772.9 V726.4 H558.6 M559.3 727.9 V708.6 H562.1 M575 732.9 V720.4 H577.9 M578.2 721.4 V712.6 H581.4 M581.3 713.6 V705.7 H582.9 M582.5 705.7 V697.4 H584.3 M596 718.6 V706.4 H599.3 M599.2 706.4 V692.6 H602.1 M612.9 705.7 V698.6 H615.3 M630 708.6 V700 H631.4 M631 700 V687.1 H634.3 M660.7 738.6 V742.9 H661.1 M676.7 784.3 V763.3 H680.4 M683.2 765.7 V747.1 H685.7 M706 807.9 V792.9 H707.4 M707 792.9 V784.3 H708.9 M715 797.1 V791.4 H716.9 M719.2 788.6 V773.3 H721.4 M740 797.1 V782.6 H742.1 M745 785 V776.4 H747.4 M753.2 797.1 V780.3 H755.7 M756.3 777.1 V770 H757.6 M757.2 770 V759.3 H758.9" stroke="#00a800" stroke-width="1" fill="none" shape-rendering="crispEdges"/>
<polyline points="16,738.6 18.6,737.4 22.1,737.1 23.6,727.9 25,726.4 25.4,726.1 27.9,730 29.3,731.7 31.4,731.1 32.9,730.7 35,732.1 36.1,732.6 37.4,722.9 38.6,707.1 40,692.9 41.4,685 43.6,684.3 45,680.3 47.4,683.6 49.3,686 51.4,682.1 52.4,684.3 53.9,689.3 55.3,696.4 56,678.6 56.7,668.3 57.9,668.3 59.3,675.7 60.7,680.7 62.1,685.7 63.6,691.4 65,692.9 65.7,695.7 67.1,701.4 68.6,707.1 70,712.1 71.4,714.3 72.6,706.4 73.6,710 75,711.4 76.4,716.4 77.4,719.3 78.9,715.7 80,718.6 81.4,721.4 82.9,724.3 85,727.1 87.1,728.6 89.3,732.1 91.4,734.3 92.9,737.9 95,740.7 96.4,744.3 97.9,747.9 99.3,751.4 100.3,752.6 102.1,750.7 103.1,744.3 103.9,735.7 104.6,727.1 105.4,722.1 107.1,723.6 108.6,726.4 109.3,729.3 111.4,729.3 112.9,734.3 115,733.6 117.1,730.7 118.6,733.6 120,737.1 121.4,740.7 122.9,742.9 124,741.4 125,735 126,737.1 127.1,741.4 128.6,745 129.3,745.7 131.4,747.1 132.9,752.1 134.3,755 136.4,755.7 137.9,759.3 139.3,762.1 140.4,763.6 141.9,759.3 143.6,757.1 145,758.6 146.4,762.9 147.9,765.7 150,765.7 152.1,765.7 153.6,764.3 155,763.3 156.7,765 158.1,766.4 159.3,769.3 160.4,770.7 161.4,767.1 162.4,765.4 163.6,768.6 164.7,767.1 165.7,760.7 167.1,759.3 168.6,762.1 169.6,767.9 170.7,772.9 172.1,773.6 173.6,770 175,771.4 176.4,773.6 177.9,776.4 180,778.3 182.1,778.6 183.3,777.1 183.9,768.6 184.7,763.6 186.1,763.1 187.9,766.4 190,770 191.4,772.9 192.9,775.7 194.7,777.9 195.4,771.4 196.4,767.9 197.9,770 199.3,773.6 200.7,776.4 202.9,776.7 205,777.1 206.7,778.6 208.6,776.4 210,773.6 211.4,774.3 212.4,777.1 213.3,771.4 214.3,770 215.7,772.1 217.9,775 220,775.7 221.4,778.6 223.3,781.1 225,781.4 226.4,780 227.9,783.6 229.3,783.6 230,779.3 231.4,778.6 233.6,779.3 235.7,779.3 237.1,782.9 238.6,785.7 240,787.9 241,788.9 241.9,780 242.4,767.1 242.6,765 244,764.7 245.7,767.1 247.9,767.9 249.7,770 251.1,775 252.9,780 254.3,785.7 256,790 257.4,785 258.9,782.1 260.7,785 262.1,789.3 264.3,793.6 266.4,797.9 267.9,799.3 269.3,804.3 271.1,809.3 272.9,813.6 275,812.1 276.9,811.4 278.3,813.6 280,811 281.7,810.4 283.1,812.9 284.3,807.9 286,806.1 288.6,807.1 290.3,809.3 292.1,812.9 294.3,815.7 296,817.6 297.9,816.7 299.3,819.3 301.1,821.4 302.9,822.4 304.6,820.7 305.4,813.6 307.1,813.6 308.3,817.1 309.7,815 311.1,811.4 312.9,813.6 314.3,816.4 315.4,807.9 316.4,802.9 318.3,806.4 319.7,800.7 321.1,789.3 321.7,777.6 323.6,780 325,781.4 326.4,777.1 328.3,779.3 330.3,782.1 332.1,784.3 333.6,785.7 334.6,777.9 335.7,772.1 337.9,773.6 340,770.7 342.1,772.1 344.3,775 346.4,771.4 347.9,775 350,778.6 352.1,780 354,780.7 355.4,784.3 357.1,787.1 357.9,790 359.3,791.4 360.7,788.6 362.1,790.7 364.3,791.4 366.1,793.6 367.9,796.4 368.9,787.1 370.7,785.7 372.9,785.3 375,786.1 377.9,786.1 379.6,787.9 381.4,790.7 383.6,792.6 385.3,794.3 387,796.4 388.1,784.3 389,766.4 390.7,769.3 392.9,771.4 394.7,772.9 396.4,773.9 398.1,772.1 400.4,771 402.1,773.1 404.3,775.7 406.1,776.4 407.9,777.9 409.6,782.1 411.4,786.4 413.3,788.9 415,789.7 416.7,790.3 418.1,793.6 419.6,795.4 421,788.6 422.1,775 423.9,775.4 425.7,777.9 426.9,778.3 427.9,772.1 429.6,771 431.4,772.9 433.3,775 434.7,778.6 436.4,781.4 438.1,782.4 439.6,781.4 441,780 442.9,781.4 444.7,781.7 446.4,782.1 447.9,785 449.6,787.4 451.4,790.7 453.3,793.6 454.7,795.4 456.1,788.6 457.6,777.1 459,764.3 460,752.9 460.7,741.4 461.9,740.4 463.6,742.6 465.7,745 467.9,747.9 470,750 472.1,752.6 473.9,755 475.4,757.9 476.4,750 477.1,744.3 478.9,744 480.7,745.7 482.9,746.9 484.6,746 485.7,741.4 486.9,734.3 488.6,732.1 489.7,727.1 491.4,725.4 493.6,724.6 495.4,723.6 496.6,718.6 497.4,721.4 498.3,727.9 500,732.9 501.7,736.4 503.1,738.6 505,740.7 506.4,742.1 507.4,745.7 508.9,750 510.3,752.1 512.1,753.6 513.6,756.4 515.4,760 516.4,764.3 517.9,768.6 519.7,770.3 521.4,771.1 523.1,772.9 525,774.6 526.9,775.7 528.6,773.6 530,775.4 531.7,777.9 533.6,780 534.6,771.4 535.4,760 536.4,755.7 537.9,759.3 539.7,755 541.1,757.9 542.9,761.4 544.6,760.7 546,763.6 547.4,767.1 548.9,770.7 550.3,772.1 551.1,767.9 552.1,771.4 553.6,772.9 555.7,772.9 556.4,765.7 557.1,751.4 557.9,737.1 558.6,727.9 560.3,728.6 561.4,718.6 562.1,709.3 563.1,710 564.3,714.3 565.7,719.3 567.1,725.7 568.6,725.4 570,722.1 571.1,721.4 572.6,725.7 574,730 575.7,733.6 576.9,734.6 577.9,727.1 578.6,721.4 580.3,720.7 581.4,714.3 582.9,711.4 583.6,702.9 584.3,697.9 586.4,701.4 588.1,707.1 590,712.9 592.1,715.7 594.3,718.6 596.1,720.7 597.9,720.7 598.6,711.4 599.3,706.4 600.7,705.7 601.4,697.1 602.1,692.9 603.6,696.4 605.7,698.6 607.6,697.9 608.6,701.4 610,705.7 611.9,709.3 613.6,711.4 614.3,703.6 615.3,697.9 617.1,696.4 619.3,694.3 620.7,697.9 622.4,701.4 624.3,703.6 626.4,704.3 627.9,705 629.3,709.3 630.7,713.6 631.9,714.3 632.6,705.7 633.3,694.3 633.9,687.9 635.3,690 636.4,694.3 637.6,699.3 639.3,702.1 640.7,705.7 641.9,711.4 643.6,713.6 645.7,715 647.1,718.6 648.6,721.4 650.4,722.9 651.4,720.7 652.4,725.7 653.6,730 655.3,731.4 656.7,732.1 658.1,734.3 659.3,729.3 660.4,731.4 661.4,737.1 662.9,742.9 663.9,747.1 665,751.4 666.4,754.3 667.6,760 668.6,767.1 669.6,771.4 670.7,775.7 672.4,777.9 674.3,780.7 675.7,783.6 677.1,787.1 678.1,790.7 679.3,782.9 680,771.4 680.7,764.3 682.1,765.7 683.3,769.3 684.3,766.4 685,757.1 685.7,747.9 687.1,750.7 688.1,755.7 689.6,760 690.7,765.7 692.1,771.4 693.3,776.4 694.7,780.7 696.1,785.7 697.6,790.7 698.6,795.7 700,800.7 701.4,804.3 702.9,808.6 704.3,812.1 705.1,814.3 706,807.1 707.1,801.4 707.9,792.9 708.6,785 710.7,785 712.1,789.3 713.6,794.3 715,798.6 716,801.4 716.9,792.9 718.3,792.9 719.3,795.7 720,787.1 720.7,774.3 722.1,775 723.6,777.9 725.4,780.7 726.9,784.3 728.3,787.1 729.3,783.6 730.3,787.1 731.4,792.9 732.9,797.1 734.3,800.7 735.7,803.6 737.4,801.4 738.9,805.7 740.3,803.6 741.1,794.3 741.7,783.6 743.6,783.6 744.6,787.1 745.4,790.7 746.4,784.3 747.4,777.1 748.6,781.4 749.3,787.1 750.7,791.4 752.1,796.4 753.6,800.7 754.6,792.9 755.4,784.3 756.4,779.3 757.1,774.3 757.9,767.1 758.6,760 760,760.7 761.1,766.4 762.6,771.4 764,777.1 765,783.6 766,790 766.9,796.4 768.6,800 770.3,801.1 772.1,801.4 773.6,802.9 775,801.4 776,805.7 777.1,810.7 778.9,812.6 780.7,813.6 782.1,815.7 783.6,817.9 784.3,818.6" stroke="#0000b0" stroke-width="2.4" fill="none" stroke-linejoin="bevel" shape-rendering="crispEdges"/>
<path d="M15.5 652.5 V831.5 H786.5 V652.5 Z" stroke="#000" stroke-width="1" fill="none" shape-rendering="crispEdges"/>
<path d="M47.5 832 v1 M79.5 832 v1 M111.5 832 v1 M143.5 832 v1 M175.5 832 v1 M207.5 832 v1 M239.5 832 v1 M271.5 832 v1 M303.5 832 v1 M335.5 832 v1 M367.5 832 v1 M399.5 832 v1 M431.5 832 v1 M463.5 832 v1 M495.5 832 v1 M527.5 832 v1 M559.5 832 v1 M591.5 832 v1 M623.5 832 v1 M655.5 832 v1 M687.5 832 v1 M719.5 832 v1 M751.5 832 v1 M783.5 832 v1 M787 670.5 h1 M787 702.5 h1 M787 734.5 h1 M787 766.5 h1 M787 798.5 h1 M787 830.5 h1" stroke="#000" stroke-width="1" fill="none" shape-rendering="crispEdges"/>
</svg>
</body></html>
